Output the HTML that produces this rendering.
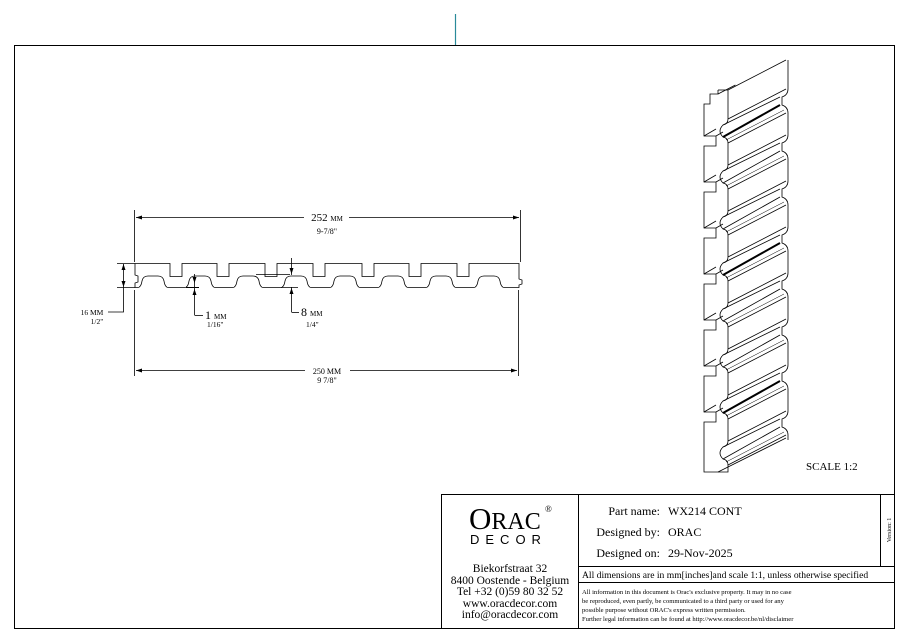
<!DOCTYPE html>
<html><head><meta charset="utf-8"><style>
html,body{margin:0;padding:0;background:#fff;}
body{width:908px;height:642px;overflow:hidden;font-family:"Liberation Serif",serif;}
svg{display:block}
</style></head><body>
<svg id="s" width="908" height="642" viewBox="0 0 908 642" xmlns="http://www.w3.org/2000/svg" font-family="Liberation Serif, serif" fill="none" stroke="#000">
<line x1="455.5" y1="14" x2="455.5" y2="45" stroke="#2a8a9a" stroke-width="1.2"/>
<rect x="14.5" y="45.5" width="880" height="583" stroke-width="1"/>
<line x1="134.5" y1="210" x2="134.5" y2="262" stroke-width="0.8"/>
<line x1="520.5" y1="210" x2="520.5" y2="262" stroke-width="0.8"/>
<line x1="136" y1="217.5" x2="304" y2="217.5" stroke-width="0.8"/>
<line x1="349" y1="217.5" x2="519" y2="217.5" stroke-width="0.8"/>
<path d="M136 217.5l6-2v4zM519 217.5l-6-2v4z" fill="#000" stroke="none"/>
<text x="327" y="221" font-size="11" fill="#000" stroke="none" text-anchor="middle">252 <tspan font-size="7">MM</tspan></text>
<text x="327" y="234" font-size="8" fill="#000" stroke="none" text-anchor="middle">9-7/8"</text>
<line x1="134.5" y1="290" x2="134.5" y2="376" stroke-width="0.8"/>
<line x1="518.5" y1="290" x2="518.5" y2="376" stroke-width="0.8"/>
<line x1="136" y1="370.5" x2="305" y2="370.5" stroke-width="0.8"/>
<line x1="350" y1="370.5" x2="517" y2="370.5" stroke-width="0.8"/>
<path d="M136 370.5l6-2v4zM517 370.5l-6-2v4z" fill="#000" stroke="none"/>
<text x="327" y="374" font-size="8" fill="#000" stroke="none" text-anchor="middle">250 MM</text>
<text x="327" y="383" font-size="8" fill="#000" stroke="none" text-anchor="middle">9 7/8"</text>
<line x1="117" y1="263.5" x2="135" y2="263.5" stroke-width="0.8"/>
<line x1="117" y1="287.5" x2="135" y2="287.5" stroke-width="0.8"/>
<line x1="123.5" y1="264" x2="123.5" y2="287" stroke-width="0.8"/>
<path d="M123.5 264l-2 6h4zM123.5 287l-2-6h4z" fill="#000" stroke="none"/>
<polyline points="123.5,287 123.5,312 108,312" stroke-width="0.8"/>
<text x="92" y="315" font-size="7.5" fill="#000" stroke="none" text-anchor="middle">16 MM</text>
<text x="97" y="324" font-size="7.5" fill="#000" stroke="none" text-anchor="middle">1/2"</text>
<line x1="186" y1="287.5" x2="199" y2="287.5" stroke-width="1"/>
<line x1="194.5" y1="274" x2="194.5" y2="315" stroke-width="0.8"/>
<line x1="194.5" y1="315.5" x2="203" y2="315.5" stroke-width="0.8"/>
<path d="M194.5 283l-2-6h4zM194.5 289l-2 6h4z" fill="#000" stroke="none"/>
<text x="205" y="319" font-size="12" fill="#000" stroke="none">1 <tspan font-size="7">MM</tspan></text>
<text x="207" y="327" font-size="7.5" fill="#000" stroke="none">1/16"</text>
<line x1="256" y1="274.5" x2="290" y2="274.5" stroke-width="0.8"/>
<line x1="281" y1="287.5" x2="298" y2="287.5" stroke-width="0.8"/>
<line x1="291.5" y1="258" x2="291.5" y2="275" stroke-width="0.8"/>
<line x1="291.5" y1="287" x2="291.5" y2="312" stroke-width="0.8"/>
<line x1="291.5" y1="312.5" x2="299" y2="312.5" stroke-width="0.8"/>
<path d="M291.5 274l-2-6h4zM291.5 288l-2 6h4z" fill="#000" stroke="none"/>
<text x="301" y="316" font-size="12" fill="#000" stroke="none">8 <tspan font-size="7">MM</tspan></text>
<text x="306" y="327" font-size="7.5" fill="#000" stroke="none">1/4"</text>
<g id="prof" stroke-width="0.8"></g>
<g id="iso" stroke-width="0.8"></g>
<text x="806" y="470" font-size="11" fill="#000" stroke="none">SCALE  1:2</text>
<rect x="441.5" y="494.5" width="453" height="134" stroke-width="1"/>
<line x1="578.5" y1="494" x2="578.5" y2="628" stroke-width="1"/>
<line x1="880.5" y1="494" x2="880.5" y2="566" stroke-width="1"/>
<line x1="578" y1="566.5" x2="894" y2="566.5" stroke-width="1"/>
<line x1="578" y1="582.5" x2="894" y2="582.5" stroke-width="1"/>
<g fill="#000" stroke="none">
<text x="469" y="529" font-size="31">O<tspan font-size="24">RAC</tspan></text>
<text x="545" y="512" font-size="9">®</text>
<text x="470" y="544" font-size="13" letter-spacing="6" font-family="Liberation Sans, sans-serif">DECOR</text>
<text x="510" y="572" font-size="11.5" text-anchor="middle">Biekorfstraat 32</text>
<text x="510" y="584" font-size="11.5" text-anchor="middle">8400 Oostende - Belgium</text>
<text x="510" y="595" font-size="11.5" text-anchor="middle">Tel  +32 (0)59 80 32 52</text>
<text x="510" y="607" font-size="11.5" text-anchor="middle">www.oracdecor.com</text>
<text x="510" y="618" font-size="11.5" text-anchor="middle">info@oracdecor.com</text>
<text x="660" y="515" font-size="12" text-anchor="end">Part name:</text>
<text x="668" y="515" font-size="12">WX214 CONT</text>
<text x="660" y="536" font-size="12" text-anchor="end">Designed by:</text>
<text x="668" y="536" font-size="12">ORAC</text>
<text x="660" y="557" font-size="12" text-anchor="end">Designed on:</text>
<text x="668" y="557" font-size="12">29-Nov-2025</text>
<text x="582" y="578" font-size="9.6">All dimensions are in mm[inches]and scale 1:1, unless otherwise specified</text>
<text x="582" y="594" font-size="6.6">All information in this document is Orac's exclusive property.  It may in no case</text>
<text x="582" y="603" font-size="6.6">be reproduced, even partly, be communicated to a third party or used for any</text>
<text x="582" y="612" font-size="6.6">possible purpose without ORAC's express written permission.</text>
<text x="582" y="621" font-size="6.6">Further legal information can be found at http://www.oracdecor.be/nl/disclaimer</text>
<text transform="translate(891,530) rotate(-90)" font-size="6" text-anchor="middle">Version: 1</text>
</g>
</svg>
<script>
var NS="http://www.w3.org/2000/svg";
function el(p,t,a){var e=document.createElementNS(NS,t);for(var k in a)e.setAttribute(k,a[k]);p.appendChild(e);return e;}
var g=document.getElementById('prof');
var notches=[170,217,265,313,362,409,457];
var d="M135 263.5";
notches.forEach(function(x){d+=" L"+x+" 263.5 L"+x+" 276.5 L"+(x+12)+" 276.5 L"+(x+12)+" 263.5";});
d+=" L519 263.5 L519 279 L522 280 L522 284 L519 285 L519 287.5";
var arches=[153,200,248,296,345,393,441,489].reverse();
arches.forEach(function(c){d+=" L"+(c+16)+" 287.5 Q"+(c+12)+" 288 "+(c+11)+" 281 Q"+(c+10)+" 276 "+(c+5)+" 276 L"+(c-5)+" 276 Q"+(c-10)+" 276 "+(c-11)+" 281 Q"+(c-12)+" 288 "+(c-16)+" 287.5";});
d+=" L135 287.5 L135 283 L138 282 L138 276 L135 275 Z";
el(g,'path',{d:d});
var iso=document.getElementById('iso');
var DX=58, DY=-30, P=46, y0=98, N=8;
function front(ox,oy){
  var s="M"+(728+ox)+" "+(y0-8+oy);
  for(var i=0;i<N;i++){var b=y0+i*P+oy, x=ox;
    s+=" L"+(728+x)+" "+(b+21)+" Q"+(728+x)+" "+(b+26)+" "+(723+x)+" "+(b+27)+" Q"+(717+x)+" "+(b+33)+" "+(723+x)+" "+(b+39)+" Q"+(728+x)+" "+(b+40)+" "+(728+x)+" "+(b+45);
  }
  return s;
}
el(iso,'path',{d:front(0,0)+" L728 "+(y0+N*P)+" L728 "+(y0+N*P+6)+" L718 "+(y0+N*P+6)});
var r="M"+(728+DX+2)+" "+(y0-8+DY);
for(var i=0;i<N;i++){var b=y0+i*P+DY, x=DX+2;
  r+=" L"+(728+x)+" "+(b+21)+" Q"+(728+x)+" "+(b+27)+" "+(722+x)+" "+(b+29)+" L"+(722+x)+" "+(b+37)+" Q"+(728+x)+" "+(b+39)+" "+(728+x)+" "+(b+45);
}
el(iso,'path',{d:r+" L"+(730+DX)+" "+(y0+N*P+DY+4)});
var bk="M718 "+(y0-8)+" L718 "+(y0-4)+" L710 "+(y0-4)+" L710 "+(y0+6)+" L704 "+(y0+6);
for(var i=1;i<N;i++){var b=y0+i*P;
  bk+=" L704 "+(b-8)+" L716 "+(b-8)+" L716 "+(b+2)+" L704 "+(b+2);
  el(iso,'line',{x1:704,y1:b-8,x2:716,y2:b-15});
  el(iso,'line',{x1:716,y1:b-8,x2:723,y2:b-12});
}
bk+=" L704 "+(y0+N*P+6)+" L718 "+(y0+N*P+6);
el(iso,'path',{d:bk});
el(iso,'line',{x1:718,y1:y0-8,x2:728,y2:y0-8});
el(iso,'line',{x1:728,y1:y0-8,x2:728+DX,y2:y0-8+DY});
el(iso,'line',{x1:718,y1:y0-4,x2:718+DX*0.3,y2:y0-4+DY*0.3});
for(var i=0;i<N;i++){var b=y0+i*P;
  el(iso,'line',{x1:728,y1:b+21,x2:728+DX,y2:b+21+DY});
  el(iso,'line',{x1:723,y1:b+27,x2:722+DX,y2:b+29+DY});
  el(iso,'line',{x1:723,y1:b+39,x2:722+DX,y2:b+37+DY,"stroke-width":(i==0||i==3||i==6)?2:0.8});
  el(iso,'line',{x1:728,y1:b+45,x2:728+DX,y2:b+45+DY});
  el(iso,'line',{x1:726,y1:b+42,x2:726+DX,y2:b+42+DY,"stroke-width":0.5});
}
el(iso,'line',{x1:718,y1:y0+N*P+6,x2:728+DX,y2:y0+N*P+DY+2});
</script>
</body></html>
